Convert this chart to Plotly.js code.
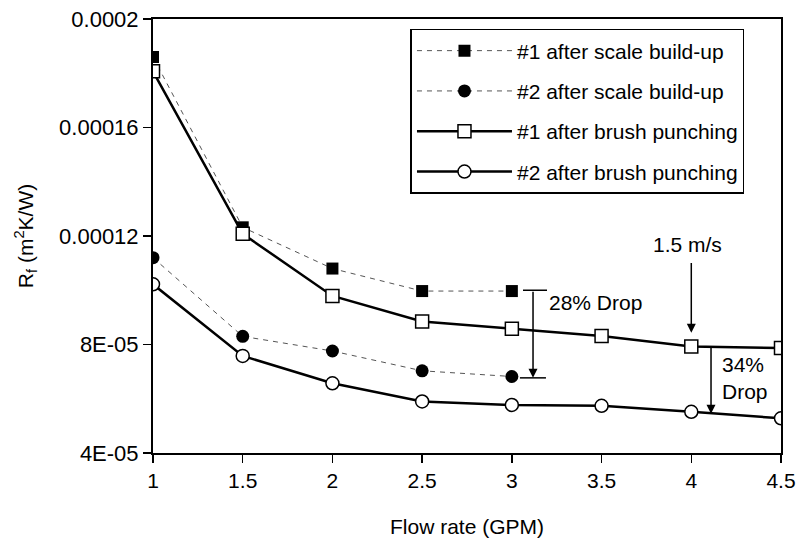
<!DOCTYPE html>
<html>
<head>
<meta charset="utf-8">
<script src="https://cdn.plot.ly/plotly-3.0.1.min.js"></script>
<style>html,body{margin:0;padding:0;background:#fff;}#chart{width:797px;height:540px;}</style>
</head>
<body>
<div id="chart"></div>
<script>
const flowScale = [1, 1.5, 2, 2.5, 3];
const flowBrush = [1, 1.5, 2, 2.5, 3, 3.5, 4, 4.5];
const scale1 = [0.000186, 0.0001232, 0.000108, 0.0000997, 0.0000997];
const scale2 = [0.000112, 0.000083, 0.0000776, 0.0000703, 0.0000682];
const brush1 = [0.0001807, 0.0001208, 0.0000979, 0.0000885, 0.0000858, 0.0000831, 0.0000793, 0.0000787];
const brush2 = [0.0001022, 0.0000758, 0.0000657, 0.000059, 0.0000577, 0.0000574, 0.0000552, 0.0000528];
const names = ['#1 after scale build-up', '#2 after scale build-up', '#1 after brush punching', '#2 after brush punching'];
const yTickVals = [0.00004, 0.00008, 0.00012, 0.00016, 0.0002];
const yTickText = ['4E-05', '8E-05', '0.00012', '0.00016', '0.0002'];
const xTickVals = [1, 1.5, 2, 2.5, 3, 3.5, 4, 4.5];
const xTickText = ['1', '1.5', '2', '2.5', '3', '3.5', '4', '4.5'];

const FONT = 'Liberation Sans, Arial, Helvetica, sans-serif';

const traces = [
  {x: flowScale, y: scale1, name: names[0], legendgroup: 'a', mode: 'lines+markers',
   line: {color: '#555', width: 1, dash: '5px,5px'},
   marker: {symbol: 'square', size: 12, color: '#000'}},
  {x: flowScale, y: scale2, name: names[1], legendgroup: 'b', mode: 'lines+markers',
   line: {color: '#555', width: 1, dash: '5px,5px'},
   marker: {symbol: 'circle', size: 13, color: '#000'}},
  {x: flowBrush, y: brush1, name: names[2], legendgroup: 'c', mode: 'lines+markers',
   line: {color: '#000', width: 2.5},
   marker: {symbol: 'square', size: 13, color: '#fff', line: {color: '#000', width: 1.5}}},
  {x: flowBrush, y: brush2, name: names[3], legendgroup: 'd', mode: 'lines+markers',
   line: {color: '#000', width: 2.5},
   marker: {symbol: 'circle', size: 13, color: '#fff', line: {color: '#000', width: 1.5}}}
];

const ann = [
  {x: 3.118, y: 0.0000677, ax: 3.118, ay: 0.0001, xref: 'x', yref: 'y', axref: 'x', ayref: 'y',
   showarrow: true, arrowhead: 2, arrowsize: 1.2, arrowwidth: 1.5, arrowcolor: '#000', standoff: 0, startstandoff: 0, text: ''},
  {x: 3.196, y: 0.0000954, xref: 'x', yref: 'y', xanchor: 'left', yanchor: 'middle', showarrow: false,
   text: '28% Drop', font: {size: 21, color: '#000', family: FONT}},
  {x: 4, y: 0.0000843, ax: 4, ay: 0.0001106, xref: 'x', yref: 'y', axref: 'x', ayref: 'y',
   showarrow: true, arrowhead: 2, arrowsize: 1.2, arrowwidth: 1.5, arrowcolor: '#000', standoff: 0, text: ''},
  {x: 3.98, y: 0.0001169, xref: 'x', yref: 'y', xanchor: 'center', yanchor: 'middle', showarrow: false,
   text: '1.5 m/s', font: {size: 21, color: '#000', family: FONT}},
  {x: 4.11, y: 0.0000545, ax: 4.11, ay: 0.0000793, xref: 'x', yref: 'y', axref: 'x', ayref: 'y',
   showarrow: true, arrowhead: 2, arrowsize: 1.2, arrowwidth: 1.5, arrowcolor: '#000', standoff: 0, text: ''},
  {x: 4.16, y: 0.0000675, xref: 'x', yref: 'y', xanchor: 'left', yanchor: 'middle', align: 'left', showarrow: false,
   text: '34%<br>Drop', font: {size: 21, color: '#000', family: FONT}}
];

const shapes = [
  {type: 'line', xref: 'x', yref: 'y', x0: 3.062, x1: 3.196, y0: 0.0001, y1: 0.0001, line: {color: '#000', width: 1.5}},
  {type: 'line', xref: 'x', yref: 'y', x0: 3.045, x1: 3.19, y0: 0.0000677, y1: 0.0000677, line: {color: '#000', width: 1.5}}
];

const layout = {
  width: 797, height: 540,
  margin: {l: 153, r: 16, t: 19, b: 87},
  paper_bgcolor: '#fff', plot_bgcolor: '#fff',
  font: {family: FONT, color: '#000', size: 21},
  showlegend: true,
  legend: {x: 0.41, y: 0.977, xanchor: 'left', yanchor: 'top',
    bordercolor: '#000', borderwidth: 1.5, bgcolor: '#fff',
    font: {size: 21, family: FONT}, traceorder: 'grouped', tracegroupgap: 10, itemwidth: 95},
  xaxis: {range: [1, 4.5], tickvals: xTickVals, ticktext: xTickText,
    showgrid: false, zeroline: false, showline: true, linecolor: '#000', linewidth: 2, mirror: true,
    ticks: 'outside', ticklen: 8, tickwidth: 1.5, tickcolor: '#000',
    tickfont: {size: 21}, title: {text: 'Flow rate (GPM)', font: {size: 21}, standoff: 28}},
  yaxis: {range: [0.00004, 0.0002], tickvals: yTickVals, ticktext: yTickText,
    showgrid: false, zeroline: false, showline: true, linecolor: '#000', linewidth: 2, mirror: true,
    ticks: 'outside', ticklen: 8, tickwidth: 1.5, tickcolor: '#000',
    tickfont: {size: 22}, title: {text: 'R<sub>f</sub> (m<sup>2</sup>K/W)', font: {size: 21}, standoff: 20}},
  annotations: ann,
  shapes: shapes
};

Plotly.newPlot('chart', traces, layout, {displayModeBar: false, staticPlot: true});
</script>
</body>
</html>
